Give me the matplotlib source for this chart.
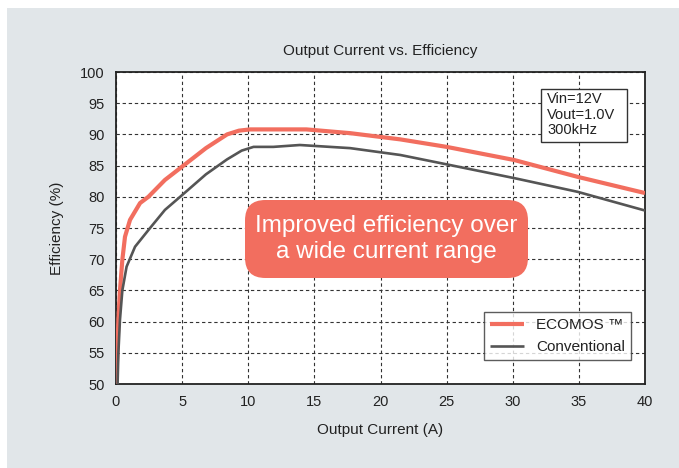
import matplotlib
matplotlib.use("Agg")
import matplotlib.pyplot as plt
from matplotlib.patches import FancyBboxPatch, Rectangle

plt.rcParams['font.family'] = ['Liberation Sans', 'DejaVu Sans']

ecomos_x = [0.0, 0.1, 0.18, 0.3, 0.48, 0.68, 1.06, 1.82, 2.45, 3.7, 5.1, 6.8, 8.4, 9.3, 10.15, 12.0, 14.4, 17.7, 21.5, 25.0, 30.1, 34.9, 40.0]
ecomos_y = [50.0, 55.0, 60.3, 65.0, 69.9, 73.6, 76.3, 79.0, 80.0, 82.7, 85.0, 87.8, 90.0, 90.6, 90.8, 90.8, 90.8, 90.2, 89.2, 88.0, 85.9, 83.2, 80.6]

conv_x = [0.12, 0.18, 0.3, 0.48, 0.8, 1.44, 2.5, 3.7, 4.85, 6.8, 8.4, 9.5, 10.4, 11.9, 13.9, 17.7, 21.5, 25.0, 30.1, 34.9, 40.0]
conv_y = [50.0, 55.0, 60.3, 65.0, 68.8, 72.0, 74.8, 77.9, 80.0, 83.6, 86.0, 87.4, 88.0, 88.0, 88.3, 87.8, 86.7, 85.2, 83.0, 80.8, 77.8]

x_ticks = [0, 5, 10, 15, 20, 25, 30, 35, 40]
y_ticks = [50, 55, 60, 65, 70, 75, 80, 85, 90, 95, 100]

red = '#F26E5F'
gray = '#555555'
txt = '#222222'

W, H = 679, 468
fig = plt.figure(figsize=(W / 100, H / 100), dpi=100)
fig.patch.set_facecolor('white')
fig.patches.append(Rectangle((7 / W, 0), 1 - 7 / W, 1 - 8 / H, transform=fig.transFigure,
                             facecolor='#E1E6E9', edgecolor='none', zorder=-10))

ax = fig.add_axes([116 / W, 1 - 384 / H, (645 - 116) / W, (384 - 72) / H])
ax.set_facecolor('white')
ax.set_xlim(0, 40)
ax.set_ylim(50, 100)
ax.set_xticks(x_ticks)
ax.set_yticks(y_ticks)
ax.tick_params(length=0, labelsize=10.5, labelcolor=txt, pad=8)
ax.grid(True, color='#333333', linestyle=(0, (3, 2.5)), linewidth=0.8)
for s in ax.spines.values():
    s.set_color('#222222')
    s.set_linewidth(1.3)

ax.plot(ecomos_x, ecomos_y, color=red, lw=3.0, label='ECOMOS \u2122', zorder=3, solid_capstyle='butt')
ax.plot(conv_x, conv_y, color=gray, lw=1.9, label='Conventional', zorder=3, solid_capstyle='butt')

ax.set_title('Output Current vs. Efficiency', fontsize=11, color=txt, pad=12)
ax.set_xlabel('Output Current (A)', fontsize=11, color=txt, labelpad=10)
ax.set_ylabel('Efficiency (%)', fontsize=11, color=txt, labelpad=12)

leg = ax.legend(loc='lower right', bbox_to_anchor=(631 / W, 1 - 360 / H), bbox_transform=fig.transFigure,
                fontsize=11, frameon=True, fancybox=False, handlelength=2.2, borderpad=0.4,
                labelspacing=0.5, borderaxespad=0)
leg.get_frame().set_edgecolor('#333333')
leg.get_frame().set_linewidth(1.0)
for t in leg.get_texts():
    t.set_color(txt)

# info box
ix0, ix1, iy0, iy1 = 541, 627, 89, 142
fig.patches.append(Rectangle((ix0 / W, 1 - iy1 / H), (ix1 - ix0) / W, (iy1 - iy0) / H,
                             transform=fig.transFigure, facecolor='white', edgecolor='#333333',
                             linewidth=1.0, zorder=5))
fig.text(547 / W, 1 - 92 / H, 'Vin=12V\nVout=1.0V\n300kHz', fontsize=10.5, color=txt,
         va='top', ha='left', linespacing=1.15, zorder=6)

bx0, bx1, by0, by1 = 245, 528, 200, 278
box = FancyBboxPatch((bx0 / W, 1 - by1 / H), (bx1 - bx0) / W, (by1 - by0) / H,
                     boxstyle='round,pad=0,rounding_size=0.03', transform=fig.transFigure,
                     facecolor=red, edgecolor='none', zorder=6, mutation_aspect=W / H)
fig.patches.append(box)
fig.text((bx0 + bx1) / 2 / W, 1 - (by0 + by1) / 2 / H, 'Improved efficiency over\na wide current range',
         ha='center', va='center', color='white', fontsize=17.5, linespacing=1.2, zorder=7)

fig.savefig('out.png', dpi=100)
